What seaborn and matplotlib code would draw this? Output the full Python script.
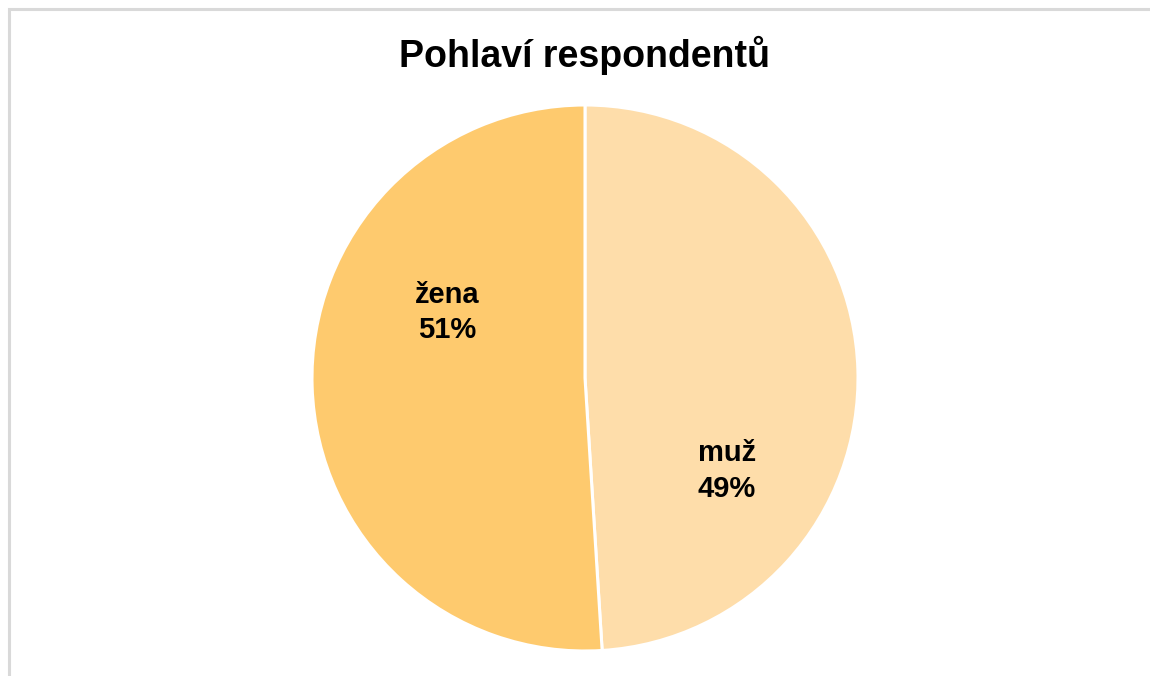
import matplotlib
matplotlib.use("Agg")
import matplotlib.pyplot as plt
import matplotlib.patches as mpatches
import seaborn as sns

# data
categories = ["muž", "žena"]
shares = [49, 51]
colors = ["#FEDDAA", "#FECA6E"]

sns.set_theme(style="white")
plt.rcParams['font.family'] = ['Liberation Sans', 'DejaVu Sans']

W, H = 1150, 676
fig = plt.figure(figsize=(W / 100, H / 100), dpi=100)
fig.patch.set_facecolor("white")

# chart frame (light gray, clipped at right/bottom)
fig.patches.append(mpatches.Rectangle((9 / W, -0.05), 1.1, (H - 9) / H + 0.05,
                                      transform=fig.transFigure, fill=False,
                                      edgecolor="#D9D9D9", linewidth=2.2))

cx, cy, r = 585, 378, 273
ax = fig.add_axes([(cx - r) / W, (H - cy - r) / H, 2 * r / W, 2 * r / H])
wedges, _ = ax.pie(shares, colors=colors, startangle=90, counterclock=False,
                   radius=1, wedgeprops=dict(edgecolor="white", linewidth=2.2))
ax.set_xlim(-1, 1)
ax.set_ylim(-1, 1)
ax.set_aspect("equal")
ax.axis("off")

# data labels (position chosen like Excel best fit)
label_pos = {"muž": (0.52, -0.34), "žena": (-0.505, 0.24)}
for cat, val in zip(categories, shares):
    x, y = label_pos[cat]
    ax.text(x, y + 0.065, cat, ha="center", va="center", fontsize=21,
            fontweight="bold", color="black")
    ax.text(x, y - 0.065, f"{val}%", ha="center", va="center", fontsize=21,
            fontweight="bold", color="black")

fig.text(585 / W, 1 - 55 / H, "Pohlaví respondentů", ha="center", va="center",
         fontsize=27, fontweight="bold", color="black")

fig.savefig("out.png", dpi=100, facecolor="white")
